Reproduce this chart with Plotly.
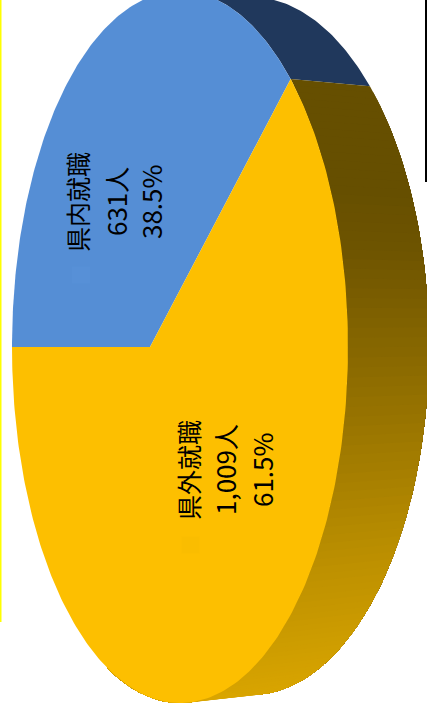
import numpy as np
import plotly.graph_objects as go

# 就職先の内訳
categories = ["県内就職", "県外就職"]
counts = [631, 1009]

face_colors = ["#558ED5", "#FDBF00"]
key_colors = ["#5790D7", "#FABD00"]
blue_wall_color = "#20385C"

# Wall shading by screen height (y, colour)
wall_shade_y = [190, 250, 350, 450, 550, 650, 700]
wall_shade_rgb = [(0x66, 0x4F, 0x00), (0x6E, 0x54, 0x00), (0x87, 0x67, 0x00),
                  (0xA0, 0x7A, 0x00), (0xBA, 0x8E, 0x00), (0xCF, 0x9E, 0x00),
                  (0xD9, 0xA5, 0x00)]

# Disc rims in a tilted perspective: centre x, centre y, half width, half height, skew
top_rim = (180.0, 347.0, 168.0, 356.0, -0.1786)
base_rim = (251.0, 346.0, 178.0, 349.0, -0.162)

WIDTH, HEIGHT = 427, 717
START_DEG = 180.0


def rim_point(rim, deg):
    cx, cy, a, b, e = rim
    t = np.radians(deg)
    u, v = np.cos(t), np.sin(t)
    d = 1 + e * u
    return cx + a * (u + e) / d, cy - b * np.sqrt(1 - e * e) * v / d


def shade(y):
    chans = [np.interp(y, wall_shade_y, [c[i] for c in wall_shade_rgb]) for i in range(3)]
    return "rgb({:.0f},{:.0f},{:.0f})".format(*chans)


def poly(xs, ys, color):
    return go.Scatter(x=xs, y=ys, mode="lines", fill="toself", fillcolor=color,
                      line=dict(color=color, width=0), hoverinfo="skip",
                      showlegend=False)


total = sum(counts)
split_deg = START_DEG - 360.0 * counts[0] / total
apex_x = top_rim[0] + top_rim[2] * top_rim[4]
apex_y = top_rim[1]

fig = go.Figure()

# Side wall of the blue slice, limited to the part seen past the top face
wall = np.linspace(split_deg, 88.0, 60)
tx, ty = rim_point(top_rim, wall)
bx, by = rim_point(base_rim, wall)
fig.add_trace(poly(np.r_[tx, bx[::-1]], np.r_[ty, by[::-1]], blue_wall_color))

# Side wall of the yellow slice: each step repaints the rest of the wall,
# so neighbouring shades overlap and leave no seams
wall = np.linspace(split_deg, -106.0, 111)
tx, ty = rim_point(top_rim, wall)
bx, by = rim_point(base_rim, wall)
for i in range(len(wall) - 1):
    color = shade((ty[i] + ty[i + 1] + by[i] + by[i + 1]) / 4)
    fig.add_trace(poly(np.r_[tx[i:], bx[i:][::-1]], np.r_[ty[i:], by[i:][::-1]], color))

# Top face
for i, sweep in enumerate([np.linspace(START_DEG, split_deg, 160),
                           np.linspace(split_deg, START_DEG - 360.0, 240)]):
    rx, ry = rim_point(top_rim, sweep)
    fig.add_trace(poly(np.r_[apex_x, rx, apex_x], np.r_[apex_y, ry, apex_y], face_colors[i]))

# Faint legend keys left behind each label
key_x = [81, 190.5]
key_y = [275, 545]
for i in range(2):
    fig.add_shape(type="rect", x0=key_x[i] - 9, x1=key_x[i] + 9, y0=key_y[i] - 8.5, y1=key_y[i] + 8.5,
                  fillcolor=key_colors[i], line_width=0, layer="above")

# Edge rules at the sides of the panel
fig.add_shape(type="line", x0=0.5, x1=0.5, y0=0, y1=622, line=dict(color="#FFFF00", width=2))
fig.add_shape(type="line", x0=426, x1=426, y0=0, y1=182, line=dict(color="#000000", width=2))

# Labels: slice name, head count and share, turned to read upwards
label_x = [[77, 115, 150], [188, 224, 261]]
label_y = [202, 470]
label_sizes = [25, 26, 26]
for i, name in enumerate(categories):
    rows = [name, f"{counts[i]:,}人", f"{counts[i] / total * 100:.1f}%"]
    for row, x, size in zip(rows, label_x[i], label_sizes):
        fig.add_annotation(x=x, y=label_y[i], text=row, textangle=-90, showarrow=False,
                           font=dict(family="Noto Sans CJK JP", size=size, color="#000000"))

fig.update_xaxes(range=[0, WIDTH], visible=False, fixedrange=True)
fig.update_yaxes(range=[HEIGHT, 0], visible=False, fixedrange=True)
fig.update_layout(width=WIDTH, height=HEIGHT, margin=dict(l=0, r=0, t=0, b=0),
                  paper_bgcolor="#FFFFFF", plot_bgcolor="#FFFFFF", showlegend=False)

fig.write_html("out.html", config={"displayModeBar": False})
